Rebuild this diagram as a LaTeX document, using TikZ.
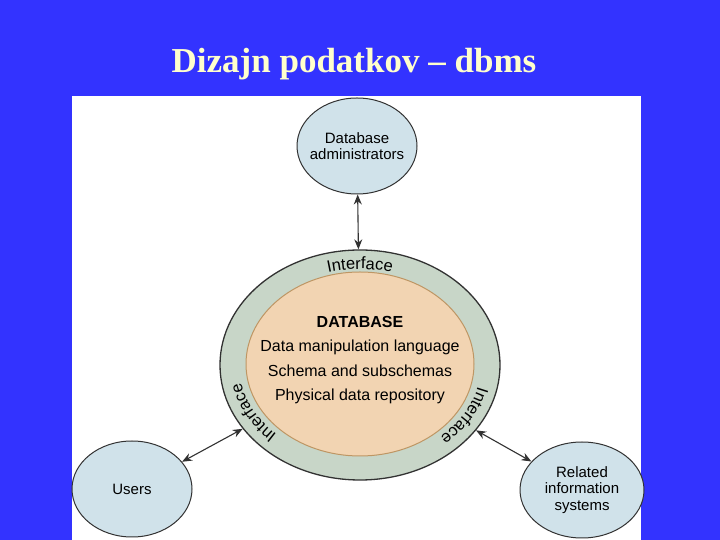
\documentclass[tikz,border=0pt]{standalone}
\usepackage{fontspec}
\setmainfont{Liberation Sans}
\newfontfamily\titlefont{Liberation Serif}
\usetikzlibrary{shapes.geometric,decorations.text,arrows.meta}
\definecolor{bgblue}{RGB}{51,51,255}
\definecolor{titlecol}{RGB}{255,255,204}
\definecolor{ring}{RGB}{200,214,200}
\definecolor{core}{RGB}{242,212,178}
\definecolor{coreborder}{RGB}{190,150,100}
\definecolor{bubble}{RGB}{208,226,234}
\definecolor{edge}{RGB}{50,50,50}
\tikzset{
  bubblenode/.style={ellipse, draw=edge, line width=1pt, fill=bubble, inner sep=0pt},
  bubbletext/.style={align=center, font=\fontsize{15}{16.5}\selectfont},
  link/.style={{Stealth[length=10pt,width=8pt]}-{Stealth[length=10pt,width=8pt]}, draw=edge, line width=1.1pt},
  ringtext/.style={decorate, decoration={text along path, text align=center, text={|\fontsize{16.5}{18}\selectfont|Interface}}}
}
\begin{document}
\begin{tikzpicture}[x=1pt,y=1pt]
\fill[bgblue] (0,0) rectangle (720,540);
\useasboundingbox (0,0) rectangle (720,540);
\fill[white] (72,0) rectangle (641,444);
\node[text=titlecol, font=\titlefont\bfseries\fontsize{35}{40}\selectfont] (title) at (354,476) {Dizajn podatkov – dbms};
\node[ellipse, draw=edge, line width=1.3pt, fill=ring, minimum width=280pt, minimum height=230pt, inner sep=0pt] (outer) at (360,175) {};
\node[ellipse, draw=coreborder, line width=1pt, fill=core, minimum width=228pt, minimum height=184pt, inner sep=0pt] (inner) at (360,176) {};
\node[align=center, font=\fontsize{16}{24.5}\selectfont] (dbtext) at (360,180) {\textbf{DATABASE}\\Data manipulation language\\Schema and subschemas\\Physical data repository};
\path[ringtext] (360,175) ++(108:121 and 96) arc[start angle=108, end angle=72, x radius=121, y radius=96];
\path[ringtext] (360,175) ++(236:121 and 96) arc[start angle=236, end angle=180, x radius=121, y radius=96];
\path[ringtext] (360,175) ++(358:121 and 96) arc[start angle=358, end angle=302, x radius=121, y radius=96];
\node[bubblenode, minimum width=120pt, minimum height=96pt] (admin) at (357,394) {};
\node[bubbletext] (admintext) at (admin.center) {Database\\administrators};
\node[bubblenode, minimum width=120pt, minimum height=96pt] (users) at (132,51) {};
\node[bubbletext] (userstext) at (users.center) {Users};
\node[bubblenode, minimum width=124pt, minimum height=96pt] (related) at (582,50) {};
\node[bubbletext] (relatedtext) at (related.center) {Related\\information\\systems};
\draw[link] (admin) -- (outer);
\draw[link] (users) -- (outer);
\draw[link] (related) -- (outer);
\end{tikzpicture}
\end{document}
